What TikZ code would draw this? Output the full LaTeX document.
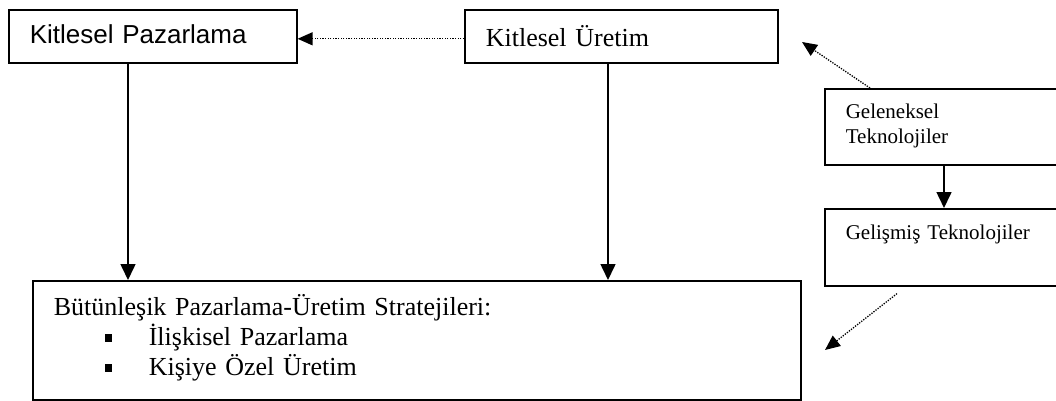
\documentclass[tikz,border=0pt]{standalone}
\usepackage{fontspec}
\setmainfont{Liberation Serif}
\newfontfamily\arialfont{Liberation Sans}
\usepackage{tikz}
\usetikzlibrary{arrows.meta}

\begin{document}
\begin{tikzpicture}[x=1pt,y=-1pt,
    box/.style={draw,line width=1.6pt,anchor=north west,align=left,inner ysep=0pt,inner xsep=21pt},
    solidarr/.style={line width=1.6pt,-{Triangle[length=16pt,width=15pt]}},
    dotarr/.style={line width=1.3pt,dash pattern=on 1.3pt off 1.3pt,-{Triangle[length=15pt,width=13pt]}}]

    \useasboundingbox (0,0) rectangle (1056,401);

    \node[box,text width=246pt,text height=34pt,text depth=19pt,font=\arialfont\fontsize{26}{30}\selectfont] (pazarlama) at (8,9) {Kitlesel Pazarlama};
    \node[box,text width=271pt,text height=37pt,text depth=16pt,font=\fontsize{26}{30}\selectfont] (uretim) at (464,9) {Kitlesel Üretim};
    \node[box,text width=198pt,text height=30pt,text depth=46pt,font=\fontsize{21}{25}\selectfont] (geleneksel) at (824,88) {Geleneksel\\Teknolojiler};
    \node[box,text width=198pt,text height=31pt,text depth=46pt,font=\fontsize{21}{25}\selectfont] (gelismis) at (824,208) {Gelişmiş Teknolojiler};
    \node[box,text width=726pt,text height=35pt,text depth=84pt,font=\fontsize{26}{30}\selectfont] (strateji) at (32,280)
        {Bütünleşik Pazarlama-Üretim Stratejileri:\\
         \hspace*{51pt}\rule[4pt]{7.5pt}{7.5pt}\hspace*{36.5pt}İlişkisel Pazarlama\\
         \hspace*{51pt}\rule[4pt]{7.5pt}{7.5pt}\hspace*{36.5pt}Kişiye Özel Üretim};

    \coordinate (ucu1) at (802,42);
    \coordinate (ucu2) at (825,350);

    \draw ([yshift=-2.5pt]uretim.west) edge[dotarr] ([yshift=-2.5pt]pazarlama.east);
    \draw ([xshift=120pt]pazarlama.south west) edge[solidarr] ([xshift=120pt]pazarlama.south west |- strateji.north);
    \draw ([xshift=144pt]uretim.south west) edge[solidarr] ([xshift=144pt]uretim.south west |- strateji.north);
    \draw ([xshift=46pt]geleneksel.north west) edge[dotarr] (ucu1);
    \draw ([xshift=120pt]geleneksel.south west) edge[solidarr] ([xshift=120pt]gelismis.north west);
    \draw ([xshift=73pt,yshift=-7pt]gelismis.south west) edge[dotarr] (ucu2);
  \end{tikzpicture}
\end{document}
